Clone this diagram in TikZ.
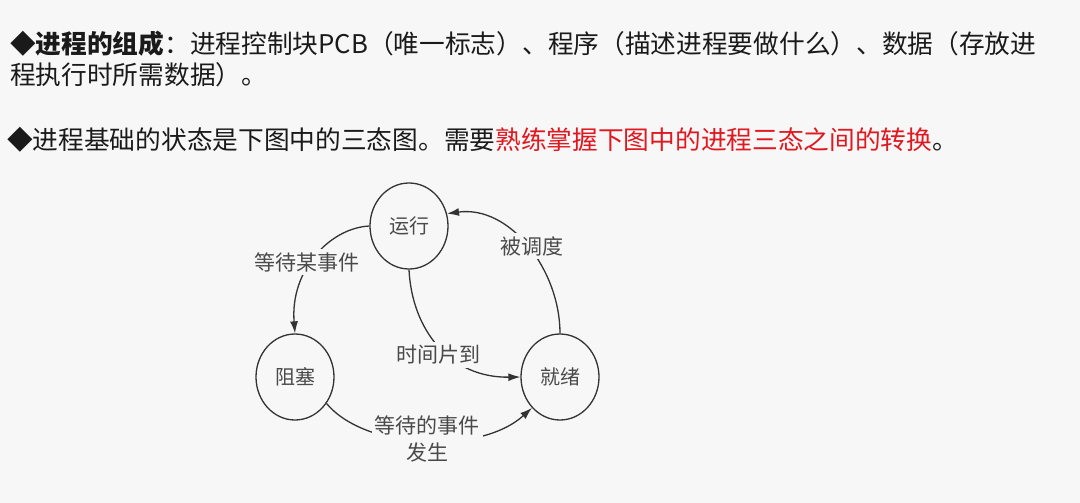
\documentclass[tikz,border=0pt]{standalone}
\usepackage{fontspec}
\newfontfamily\cjk{Noto Sans CJK SC}
\usetikzlibrary{arrows.meta,shapes.geometric}
\definecolor{bg}{HTML}{F7F7F7}
\definecolor{ink}{HTML}{1A1A1A}
\definecolor{hot}{HTML}{E01820}
\definecolor{linec}{HTML}{333333}
\definecolor{labc}{HTML}{4A4A4A}
\tikzset{
  titletext/.style={anchor=west, inner sep=0pt, text=ink, font=\cjk\fontsize{25.7}{30}\selectfont},
  state/.style={ellipse, draw=linec, line width=1.3pt, minimum width=78pt, minimum height=86pt, inner sep=0pt, text=labc, font=\cjk\fontsize{20}{24}\selectfont},
  conn/.style={draw=linec, line width=1.3pt, -{Latex[length=12pt,width=8pt]}},
  elabel/.style={fill=bg, inner sep=3pt, text=labc, align=center, font=\cjk\fontsize{21}{27}\selectfont}
}
\begin{document}
\begin{tikzpicture}[x=1pt,y=-1pt]
\fill[bg] (0,0) rectangle (1080,503);
\useasboundingbox (0,0) rectangle (1080,503);

\node[titletext] (l1) at (10,44) {\textbf{◆进程的组成}：进程控制块PCB（唯一标志）、程序（描述进程要做什么）、数据（存放进};
\node[titletext] (l2) at (10,75) {程执行时所需数据）。};
\node[titletext] (l3) at (7,140) {◆进程基础的状态是下图中的三态图。需要\textcolor{hot}{熟练掌握下图中的进程三态之间的转换}。};

\node[state] (run) at (409,226) {运行};
\node[state] (blk) at (295,377) {阻塞};
\node[state] (rdy) at (560,377) {就绪};

\draw[conn] (run.west) .. controls (330,228) and (290,270) .. (blk.north);
\draw[conn] (rdy.north) .. controls (560,270) and (510,205) .. (run.18);
\draw[conn] (run.south) .. controls (412,330) and (450,378) .. (rdy.west);
\draw[conn] (blk.-40) .. controls (365,450) and (480,455) .. (rdy.south west);

\node[elabel] (lw) at (307,262) {等待某事件};
\node[elabel] (ls) at (532,246) {被调度};
\node[elabel] (lt) at (438,355) {时间片到};
\node[elabel] (le) at (427,439) {等待的事件\\发生};
\end{tikzpicture}
\end{document}
